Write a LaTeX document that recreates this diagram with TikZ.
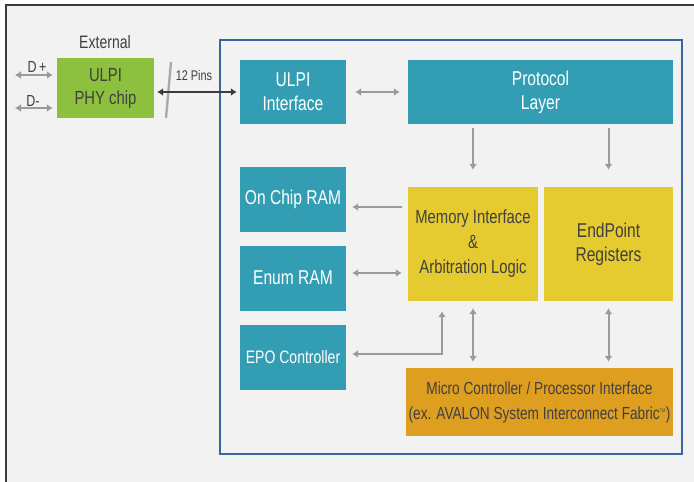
\documentclass[tikz,border=0pt]{standalone}
\usepackage{fontspec}
\setmainfont[FakeStretch=0.78]{Liberation Sans}
\usetikzlibrary{arrows.meta}

\definecolor{pagegray}{HTML}{F2F2F2}
\definecolor{framedark}{HTML}{3C3C3C}
\definecolor{frameblue}{HTML}{3A66A0}
\definecolor{tealfill}{HTML}{339EB3}
\definecolor{greenfill}{HTML}{8DC03F}
\definecolor{yellowfill}{HTML}{E6CB30}
\definecolor{orangefill}{HTML}{DE9E20}
\definecolor{arrowgray}{HTML}{9A9C9C}
\definecolor{textdark}{HTML}{404040}

\tikzset{
  tealblock/.style={fill=tealfill,text=white},
  yellowblock/.style={fill=yellowfill,text=textdark},
  bigtext/.style={font=\fontsize{20}{24}\selectfont},
  arrowline/.style={draw=arrowgray,line width=2pt},
}

\begin{document}
\begin{tikzpicture}[x=1pt,y=-1pt,>={Latex[length=6pt,width=8pt]}]
\fill[white] (0,0) rectangle (694,482);
\useasboundingbox (0,0) rectangle (694,482);
\fill[pagegray] (6,5) rectangle (694,482);
\draw[framedark,line width=2pt] (6,482) -- (6,5) -- (694,5);
\draw[frameblue,line width=2.2pt] (220,40) rectangle (682,454);

\begin{scope}[every node/.style={rectangle,inner sep=0pt,align=center}]
  \node[fill=greenfill,text=textdark,minimum width=97pt,minimum height=60pt,
        font=\fontsize{19}{23}\selectfont] (phy) at (105.5,88) {ULPI\\PHY chip};
  \node[text=textdark,font=\fontsize{18}{22}\selectfont] (ext) at (105,42) {External};
  \node[text=textdark,font=\fontsize{16}{18}\selectfont] (dplus) at (37,67) {D\,+};
  \node[text=textdark,font=\fontsize{16}{18}\selectfont] (dminus) at (33,101) {D-};
  \node[text=textdark,font=\fontsize{14}{16}\selectfont] (pins) at (194,75) {12 Pins};

  \node[tealblock,bigtext,minimum width=106pt,minimum height=64pt] (ulpi) at (293,92) {ULPI\\Interface};
  \node[tealblock,bigtext,minimum width=265pt,minimum height=64pt] (proto) at (540.5,92) {Protocol\\Layer};
  \node[tealblock,bigtext,minimum width=106pt,minimum height=65pt] (ocr) at (293,199) {On Chip RAM};
  \node[tealblock,bigtext,minimum width=106pt,minimum height=65pt] (enum) at (293,278) {Enum RAM};
  \node[tealblock,font=\fontsize{18}{22}\selectfont,minimum width=106pt,minimum height=65pt] (epo) at (293,357) {EPO Controller};

  \node[yellowblock,font=\fontsize{19}{25}\selectfont,minimum width=130pt,minimum height=114pt] (mem) at (473,244) {Memory Interface\\\&\\Arbitration Logic};
  \node[yellowblock,bigtext,minimum width=129pt,minimum height=114pt] (ep) at (608.5,244) {EndPoint\\Registers};

  \node[fill=orangefill,text=textdark,font=\fontsize{17.5}{25}\selectfont,minimum width=267pt,minimum height=68pt] (micro) at (539.5,402)
    {Micro Controller / Processor Interface\\(ex. AVALON System Interconnect Fabric\textsuperscript{\tiny TM})};
\end{scope}

% external side
\coordinate (dp) at (15,75);
\coordinate (dm) at (15,108);
\draw[arrowline,<->,shorten >=4pt] (dp) -- (dp -| phy.west);
\draw[arrowline,<->,shorten >=4pt] (dm) -- (dm -| phy.west);
\draw[arrowgray!85,line width=2.4pt] (166,118) -- (171,62);
\draw[framedark,line width=2pt,<->,shorten <=3pt,shorten >=3pt] (phy.east |- ulpi.west) -- (ulpi.west);

% inside the core
\coordinate (ocrin) at ([yshift=-8pt]ocr.east);
\coordinate (enumin) at ([yshift=5pt]enum.east);
\coordinate (epoin) at ([yshift=3pt]epo.east);
\begin{scope}[every edge/.style={arrowline}]
  \path [<->] (ulpi) edge[shorten <=9pt,shorten >=8pt] (proto);
  \path [->] (proto.south -| mem) edge[shorten <=4pt,shorten >=17pt] (mem.north);
  \path [->] (proto.south -| ep) edge[shorten <=4pt,shorten >=17pt] (ep.north);
  \path [->] (ocrin -| mem.west) edge[shorten <=6pt,shorten >=6pt] (ocrin);
  \path [<->] (enumin -| mem.west) edge[shorten <=6pt,shorten >=6pt] (enumin);
  \path [<->] (mem.south) edge[shorten <=7pt,shorten >=6pt] (mem.south |- micro.north);
  \path [<->] (ep.south) edge[shorten <=7pt,shorten >=6pt] (ep.south |- micro.north);
\end{scope}
\draw[arrowline,<->,shorten <=10pt,shorten >=6pt] ([xshift=-31pt]mem.south) |- (epoin);
\end{tikzpicture}
\end{document}
